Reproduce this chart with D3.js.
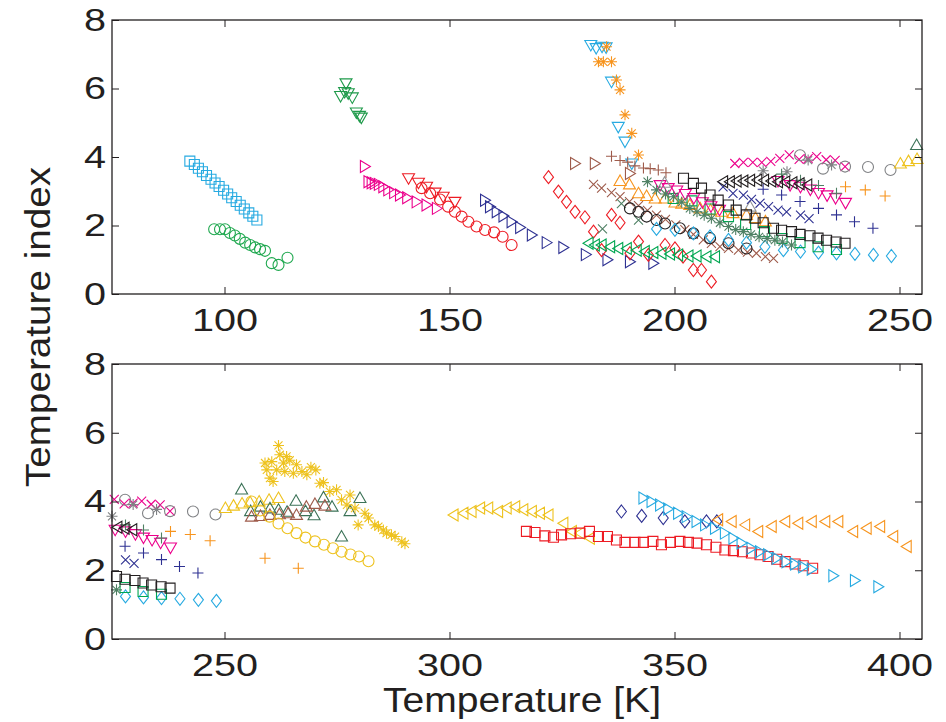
<!DOCTYPE html>
<html>
<head>
<meta charset="utf-8">
<script src="https://cdn.jsdelivr.net/npm/d3@7/dist/d3.min.js"></script>
<style>
  body { margin: 0; background: #fff; }
  svg { display: block; }
  text { font-family: "Liberation Sans", Arial, Helvetica, sans-serif; fill: #231f20; }
</style>
</head>
<body>
<svg id="chart" width="946" height="722"></svg>
<script>
// Temperature index vs temperature, two stacked panels sharing the same data
// (top: 75–255 K, bottom: 225–405 K). Each array is [T (K), index].

const yTicks = [0, 2, 4, 6, 8];
const topTicks = [100, 150, 200, 250];
const bottomTicks = [250, 300, 350, 400];
const topDomain = [75, 255];
const bottomDomain = [225, 405];

const cyanSquares = [[92.3,3.88],[93.3,3.78],[94.2,3.67],[95.1,3.57],[96.0,3.46],[97.0,3.35],[97.9,3.24],[98.8,3.14],[99.8,3.03],[100.7,2.92],[101.6,2.81],[102.6,2.70],[103.5,2.59],[104.4,2.48],[105.4,2.37],[106.3,2.27],[107.2,2.16]];
const greenCircles = [[97.7,1.89],[99.0,1.89],[100.1,1.89],[101.2,1.78],[102.3,1.71],[103.4,1.61],[104.6,1.50],[105.7,1.43],[106.8,1.36],[107.9,1.31],[109.0,1.26],[110.5,0.90],[112.0,0.85],[114.0,1.06]];
const greenDownTri = [[127.0,6.15],[125.8,5.78],[126.7,5.90],[127.5,5.86],[128.4,5.74],[129.3,5.30],[130.0,5.20],[130.4,5.15]];
const magentaRightTri = [[131.2,3.72],[132.0,3.28],[132.7,3.25],[133.4,3.23],[134.3,3.20],[135.3,3.13],[136.4,3.04],[137.7,2.96],[139.0,2.89],[140.6,2.81],[142.7,2.69],[144.9,2.60],[147.2,2.50]];
const redDownTri = [[140.9,3.38],[143.1,3.25],[144.9,3.13],[146.8,2.96],[148.6,2.84],[151.2,2.69]];
const redCircles = [[143.8,3.09],[145.7,2.94],[147.9,2.76],[149.7,2.55],[151.2,2.40],[152.7,2.26],[154.2,2.11],[156.0,1.97],[157.9,1.87],[159.9,1.80],[161.8,1.67],[163.8,1.43]];
const navyRightTri = [[157.9,2.74],[159.0,2.55],[160.5,2.40],[162.0,2.28],[163.8,2.11],[165.7,1.94],[168.3,1.72],[171.6,1.50],[175.3,1.36],[180.3,1.15],[185.1,1.00],[190.1,0.94],[195.3,0.90]];
const redDiamonds = [[172.0,3.41],[174.2,2.99],[176.0,2.69],[177.9,2.40],[180.1,2.24],[182.0,1.82],[183.8,1.28],[186.0,2.31],[187.9,2.08],[190.1,1.19],[192.0,1.53],[194.2,1.14],[197.9,1.43],[200.1,1.33],[201.9,1.09],[204.2,0.70],[206.0,0.70],[208.2,0.36]];
const greenLeftTri = [[180.9,1.48],[182.3,1.43],[183.8,1.43],[185.7,1.38],[187.5,1.33],[189.4,1.33],[191.6,1.28],[193.4,1.24],[195.3,1.21],[197.1,1.19],[199.0,1.17],[200.8,1.14],[203.1,1.11],[204.9,1.11],[207.1,1.09],[209.0,1.09]];
const cyanDownTri = [[181.4,7.27],[182.6,7.18],[183.9,7.22],[184.8,7.20],[186.0,6.20],[187.5,4.88],[189.0,4.45],[190.5,3.81]];
const orangeStars = [[184.9,7.22],[183.1,6.78],[184.2,6.78],[186.0,6.78],[187.1,6.25],[187.9,5.96],[189.0,5.23],[190.5,4.69],[192.0,4.06]];
const brownRightTri = [[177.9,3.81],[182.3,3.81],[190.1,3.52]];
const brownPlus = [[186.0,4.02],[187.9,3.90],[189.6,3.85],[191.2,3.74],[193.1,3.68],[194.6,3.66],[196.4,3.62],[198.1,3.54]];
const brownCross = [[182.0,3.20],[183.8,3.09],[186.0,2.96],[187.9,2.84],[190.0,2.70],[192.0,2.58],[194.0,2.44],[196.0,2.30],[198.0,2.18],[200.3,2.02],[202.3,1.88],[204.2,1.74],[206.4,1.58],[208.2,1.48],[210.1,1.38],[212.0,1.33],[214.2,1.28],[216.2,1.22],[218.2,1.19],[220.2,1.09],[222.0,1.04]];
const orangeUpTri = [[187.9,3.30],[190.0,3.20],[192.0,2.94],[193.8,2.86],[195.7,2.79],[197.9,2.79],[200.1,2.67],[201.6,2.64],[203.4,2.60],[205.7,2.50],[208.0,2.45],[210.5,2.40],[213.0,2.36],[216.0,2.31],[218.0,2.22],[220.2,2.12]];
const slateCross = [[184.0,1.90],[188.2,2.64],[192.0,2.16]];
const slateStars = [[194.0,3.28],[196.0,3.04],[198.0,2.92],[199.8,2.84],[201.6,2.68],[203.4,2.50],[205.0,2.40],[206.6,2.30],[208.2,2.21],[210.1,2.08],[212.0,1.97],[213.6,1.88],[215.3,1.82],[217.0,1.74],[218.8,1.67],[220.6,1.62],[222.3,1.57],[224.0,1.52],[226.0,1.43]];
const blackCircles = [[190.1,2.50],[192.0,2.40],[193.8,2.26],[196.0,2.16],[197.9,2.06],[201.2,1.92],[204.2,1.77],[207.9,1.63],[212.0,1.48],[216.0,1.33]];
const greenSquares = [[199.7,2.79],[203.9,2.72],[207.9,2.48],[212.0,2.26],[215.8,2.03],[220.0,1.82],[223.9,1.62],[227.9,1.50],[231.9,1.38],[236.0,1.30]];
const magentaDownTriA = [[196.8,3.18],[198.6,3.09],[200.5,3.02],[202.4,2.92],[204.3,2.80],[206.2,2.68],[208.1,2.56],[210.0,2.46]];
const grayUpTri = [[197.8,3.25],[216.8,2.55]];
const cyanDiamonds = [[196.0,1.90],[200.1,1.87],[204.2,1.77],[207.9,1.68],[212.0,1.58],[216.0,1.50],[220.1,1.38],[224.2,1.28],[228.0,1.24],[232.0,1.21],[236.0,1.19],[240.1,1.17],[244.2,1.14],[248.2,1.11]];
const blackSquares = [[202.0,3.38],[204.2,3.23],[206.0,3.09],[207.9,2.89],[209.7,2.74],[212.0,2.60],[213.7,2.45],[216.0,2.31],[217.9,2.21],[219.7,2.08],[222.0,1.92],[223.8,1.86],[226.0,1.82],[227.9,1.74],[230.1,1.70],[231.9,1.63],[233.8,1.57],[235.9,1.52],[237.9,1.48]];
const blackLeftTri = [[210.8,3.28],[212.3,3.28],[213.8,3.30],[215.3,3.30],[216.8,3.32],[218.4,3.33],[219.9,3.32],[221.5,3.30],[223.0,3.28],[224.6,3.27],[226.2,3.25],[227.8,3.22],[229.5,3.18]];
const magentaCross = [[213.4,3.81],[215.3,3.84],[217.4,3.84],[219.4,3.84],[221.4,3.87],[223.4,3.96],[225.5,4.06],[227.7,3.93],[229.7,3.95],[231.6,4.01],[233.7,3.92],[235.7,3.90],[237.9,3.72]];
const magentaDownTriB = [[223.0,3.30],[225.7,3.18],[228.0,3.13],[230.2,3.05],[232.0,2.95],[233.9,2.88],[235.8,2.80],[238.0,2.66]];
const navyCross = [[210.8,3.13],[213.0,2.94],[215.3,2.89],[217.1,2.76],[219.0,2.65],[220.9,2.55],[223.0,2.45],[224.9,2.40],[228.0,2.30],[229.9,2.20]];
const navyPlus = [[219.7,3.06],[223.8,2.89],[227.9,2.70],[232.0,2.50],[236.0,2.31],[240.0,2.11],[244.1,1.92]];
const grayCircles = [[227.9,4.05],[233.0,3.66],[237.9,3.72],[243.0,3.71],[248.0,3.62]];
const grayStars = [[219.7,3.60],[225.0,3.57],[229.7,3.91],[234.9,3.77]];
const slatePlus = [[223.8,3.50],[228.0,3.32],[232.0,3.17],[236.0,2.94]];
const orangePlus = [[238.0,3.13],[242.4,3.04],[246.8,2.86],[259.0,2.35],[266.4,2.06]];
const yellowUpTri = [[250.2,3.81],[252.0,3.88],[253.9,3.94],[255.7,3.98],[257.7,4.00],[259.9,4.05],[262.0,4.10]];
const pineUpTri = [[253.8,4.35],[255.8,3.72],[258.0,3.85],[260.1,3.80],[262.0,3.76],[263.9,3.70],[265.9,4.02],[268.0,3.72],[269.9,3.60],[272.0,4.12],[273.9,3.85],[276.0,2.98],[277.9,3.72],[280.1,4.10]];
const brownUpTri = [[256.0,3.56],[258.0,3.58],[260.1,3.61],[262.2,3.63],[264.2,3.66],[266.0,3.61],[268.2,3.85],[270.1,3.93],[272.3,3.88]];
const yellowCircles = [[256.0,4.00],[257.9,3.74],[260.0,3.56],[262.0,3.36],[264.0,3.22],[266.0,3.08],[268.0,2.95],[270.1,2.84],[272.1,2.74],[274.1,2.64],[276.0,2.54],[278.0,2.46],[279.9,2.40],[282.0,2.26]];
const yellowStars = [[262.0,5.63],[262.3,5.36],[263.8,5.31],[259.0,5.12],[260.5,5.16],[259.4,4.92],[261.6,4.92],[263.1,5.12],[264.5,5.20],[266.0,5.07],[263.4,4.87],[265.3,4.82],[267.2,4.87],[268.3,4.78],[269.2,5.00],[270.3,4.92],[260.1,4.68],[260.8,4.58],[271.2,4.53],[272.0,4.55],[273.4,4.29],[274.9,4.34],[276.0,4.05],[277.9,4.19],[277.2,3.90],[279.0,3.81],[279.7,3.32],[281.2,3.66],[282.0,3.52],[283.4,3.32],[284.2,3.27],[285.3,3.17],[286.0,3.08],[287.1,3.03],[287.9,2.98],[289.4,2.83],[290.1,2.77]];
const yellowLeftTri = [[300.9,3.61],[303.1,3.66],[304.9,3.71],[306.8,3.81],[308.6,3.81],[310.8,3.71],[312.7,3.81],[314.6,3.85],[316.4,3.76],[318.3,3.71],[320.1,3.66],[322.0,3.61],[325.3,3.37],[327.2,3.13],[329.0,3.08],[331.2,2.93]];
const redSquares = [[317.1,3.13],[319.0,3.10],[321.2,3.00],[323.1,2.96],[324.9,3.03],[326.9,3.06],[329.0,3.08],[331.1,3.13],[333.1,2.98],[335.1,2.98],[337.1,2.88],[339.0,2.81],[341.2,2.81],[343.1,2.81],[345.2,2.84],[347.1,2.74],[349.1,2.81],[351.2,2.84],[353.1,2.81],[355.0,2.79],[357.1,2.74],[359.2,2.67],[361.2,2.59],[363.1,2.57],[365.1,2.54],[367.1,2.50],[369.0,2.45],[370.8,2.40],[372.7,2.32],[374.6,2.25],[376.8,2.18],[378.6,2.13],[380.7,2.06]];
const cyanRightTri = [[343.1,4.10],[344.9,4.00],[346.8,3.90],[348.6,3.78],[350.8,3.66],[352.7,3.56],[354.9,3.42],[356.8,3.32],[359.0,3.22],[361.2,3.08],[363.1,2.93],[364.9,2.79],[367.1,2.64],[369.0,2.54],[370.8,2.45],[372.7,2.35],[374.9,2.25],[376.8,2.18],[378.6,2.10],[380.5,2.03],[385.3,1.84],[390.1,1.70],[395.3,1.52]];
const navyDiamonds = [[338.2,3.71],[342.7,3.58],[347.5,3.52],[352.3,3.42],[357.1,3.42],[359.4,3.42]];
const orangeLeftTri = [[359.7,3.47],[362.7,3.42],[365.7,3.32],[368.6,3.13],[371.6,3.27],[374.6,3.42],[377.5,3.37],[380.5,3.42],[383.5,3.42],[386.4,3.42],[389.7,3.13],[392.7,3.22],[395.7,3.27],[398.6,2.98],[401.6,2.69]];

// marker styles, drawn in this order
const series = [
  { data: cyanSquares, shape: "square", color: "#27aae1" },
  { data: greenCircles, shape: "circle", color: "#1fa84f" },
  { data: greenDownTri, shape: "triDown", color: "#1e9a4a" },
  { data: magentaRightTri, shape: "triRight", color: "#ec008c" },
  { data: redDownTri, shape: "triDown", color: "#ed1c24" },
  { data: redCircles, shape: "circle", color: "#ed1c24" },
  { data: navyRightTri, shape: "triRight", color: "#2e3192" },
  { data: redDiamonds, shape: "diamond", color: "#ed1c24" },
  { data: greenLeftTri, shape: "triLeft", color: "#00a651" },
  { data: cyanDownTri, shape: "triDown", color: "#27aae1" },
  { data: orangeStars, shape: "star", color: "#f7941d" },
  { data: brownRightTri, shape: "triRight", color: "#9e5b4b" },
  { data: brownPlus, shape: "plus", color: "#9e5b4b" },
  { data: brownCross, shape: "cross", color: "#9e5b4b" },
  { data: orangeUpTri, shape: "triUp", color: "#f7941d" },
  { data: slateCross, shape: "cross", color: "#4f8064" },
  { data: blackCircles, shape: "circle", color: "#231f20" },
  { data: cyanDiamonds, shape: "diamond", color: "#27aae1" },
  { data: greenSquares, shape: "square", color: "#00a651" },
  { data: magentaDownTriA, shape: "triDown", color: "#ec008c" },
  { data: grayUpTri, shape: "triUp", color: "#939598" },
  { data: slateStars, shape: "star", color: "#4f8064" },
  { data: blackSquares, shape: "square", color: "#231f20" },
  { data: navyCross, shape: "cross", color: "#2e3192" },
  { data: navyPlus, shape: "plus", color: "#2e3192" },
  { data: magentaCross, shape: "cross", color: "#ec008c" },
  { data: magentaDownTriB, shape: "triDown", color: "#ec008c" },
  { data: grayCircles, shape: "circle", color: "#808285" },
  { data: grayStars, shape: "star", color: "#808285" },
  { data: slatePlus, shape: "plus", color: "#4f8064" },
  { data: blackLeftTri, shape: "triLeft", color: "#231f20" },
  { data: orangePlus, shape: "plus", color: "#f7941d" },
  { data: yellowUpTri, shape: "triUp", color: "#eec21e" },
  { data: pineUpTri, shape: "triUp", color: "#3b7257" },
  { data: brownUpTri, shape: "triUp", color: "#9e5b4b" },
  { data: yellowCircles, shape: "circle", color: "#eec21e" },
  { data: yellowStars, shape: "star", color: "#eec21e" },
  { data: yellowLeftTri, shape: "triLeft", color: "#eec21e" },
  { data: redSquares, shape: "square", color: "#ed1c24" },
  { data: navyDiamonds, shape: "diamond", color: "#2e3192" },
  { data: cyanRightTri, shape: "triRight", color: "#27aae1" },
  { data: orangeLeftTri, shape: "triLeft", color: "#f7941d" }
];

const shapes = {
  circle: "M5.5,0A5.5,5.5 0 1,1 -5.5,0A5.5,5.5 0 1,1 5.5,0Z",
  square: "M-5,-5H5V5H-5Z",
  diamond: "M0,-6.5L5,0L0,6.5L-5,0Z",
  triUp: "M0,-6L6,4.5L-6,4.5Z",
  triDown: "M0,6L6,-4.5L-6,-4.5Z",
  triRight: "M5.5,0L-4.5,6L-4.5,-6Z",
  triLeft: "M-5.5,0L4.5,6L4.5,-6Z",
  plus: "M-5.5,0H5.5M0,-5.5V5.5",
  cross: "M-4.5,-4.5L4.5,4.5M-4.5,4.5L4.5,-4.5",
  star: "M-5.5,0H5.5M0,-5.5V5.5M-4,-4L4,4M-4,4L4,-4"
};

const svg = d3.select("#chart");
const left = 112, right = 922;
const panels = [
  { top: 20, bottom: 294, domain: topDomain, ticks: topTicks },
  { top: 364, bottom: 639, domain: bottomDomain, ticks: bottomTicks }
];

panels.forEach((p) => {
  const x = d3.scaleLinear().domain(p.domain).range([left, right]);
  const y = d3.scaleLinear().domain([0, 8]).range([p.bottom, p.top]);
  const h = p.bottom - p.top, w = right - left;

  // markers are kept whole; only points outside the panel's range are dropped
  const g = svg.append("g");
  series.forEach((s) => {
    const pts = s.data.filter((d) => d[0] >= p.domain[0] && d[0] <= p.domain[1]);
    g.append("g").selectAll("path").data(pts).join("path")
      .attr("d", shapes[s.shape])
      .attr("transform", (d) => `translate(${x(d[0])},${y(d[1])})`)
      .attr("fill", "none").attr("stroke", s.color).attr("stroke-width", 1.1);
  });

  // inward ticks on all four sides, labels on bottom and left only
  const gx = svg.append("g").attr("transform", `translate(0,${p.bottom})`)
    .call(d3.axisBottom(x).tickValues(p.ticks).tickSize(-7).tickPadding(14));
  const gx2 = svg.append("g").attr("transform", `translate(0,${p.top})`)
    .call(d3.axisTop(x).tickValues(p.ticks).tickSize(-7).tickFormat(""));
  const gy = svg.append("g").attr("transform", `translate(${left},0)`)
    .call(d3.axisLeft(y).tickValues(yTicks).tickSize(-7).tickPadding(6));
  const gy2 = svg.append("g").attr("transform", `translate(${right},0)`)
    .call(d3.axisRight(y).tickValues(yTicks).tickSize(-7).tickFormat(""));

  [gx, gx2, gy, gy2].forEach((a) => {
    a.select(".domain").remove();
    a.selectAll(".tick line").attr("stroke", "#231f20").attr("stroke-width", 1);
    a.selectAll(".tick text").attr("font-size", 32).attr("fill", "#231f20")
      .attr("font-family", "'Liberation Sans', Arial, sans-serif")
      .attr("lengthAdjust", "spacingAndGlyphs")
      .attr("textLength", (d) => String(d).length === 1 ? 22 : 66);
  });

  svg.append("rect").attr("x", left).attr("y", p.top).attr("width", w).attr("height", h)
    .attr("fill", "none").attr("stroke", "#231f20").attr("stroke-width", 1.3);
});

svg.append("text").attr("x", 522).attr("y", 712).attr("text-anchor", "middle")
  .attr("font-size", 35).attr("textLength", 278).attr("lengthAdjust", "spacingAndGlyphs")
  .text("Temperature [K]");
svg.append("text").attr("transform", "translate(50,327) rotate(-90)").attr("text-anchor", "middle")
  .attr("font-size", 35).attr("textLength", 320).attr("lengthAdjust", "spacingAndGlyphs")
  .text("Temperature index");
</script>
</body>
</html>
